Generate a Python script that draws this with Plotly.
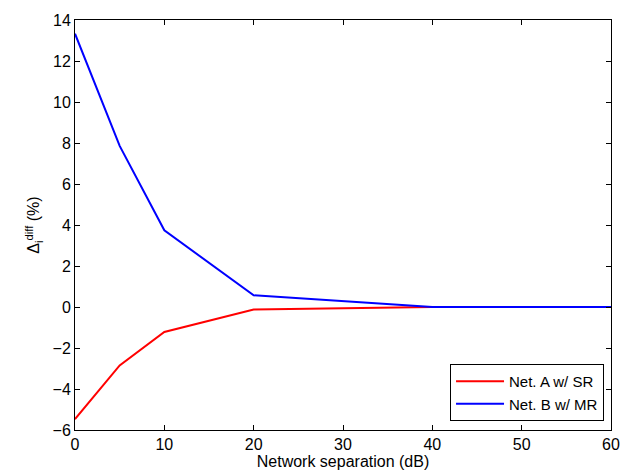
import plotly.graph_objects as go

separation_db = [0, 5, 10, 20, 40, 60]
net_a_sr = [-5.47, -2.85, -1.22, -0.12, 0.0, 0.0]
net_b_mr = [13.33, 7.86, 3.74, 0.57, 0.0, 0.0]
series_names = ["Net. A w/ SR", "Net. B w/ MR"]
x_ticks = [0, 10, 20, 30, 40, 50, 60]
y_ticks = [-6, -4, -2, 0, 2, 4, 6, 8, 10, 12, 14]

FONT = "Liberation Sans, Arial, Helvetica, sans-serif"

fig = go.Figure()
fig.add_trace(go.Scatter(x=separation_db, y=net_a_sr, mode="lines", name=series_names[0],
                         line=dict(color="#ff0000", width=2)))
fig.add_trace(go.Scatter(x=separation_db, y=net_b_mr, mode="lines", name=series_names[1],
                         line=dict(color="#0000ff", width=2)))

axis_common = dict(showgrid=False, zeroline=False, showline=True, linecolor="black", linewidth=1,
                   mirror="ticks", ticks="inside", ticklen=5, tickcolor="black",
                   tickfont=dict(family=FONT, size=16, color="black"))

fig.update_layout(
    width=632, height=476,
    margin=dict(l=75, r=19, t=15, b=44),
    paper_bgcolor="white", plot_bgcolor="white",
    font=dict(family=FONT, size=16, color="black"),
    xaxis=dict(range=[0, 60], tickvals=x_ticks,
               title=dict(text="Network separation (dB)", standoff=0, font=dict(size=16)),
               **axis_common),
    yaxis=dict(range=[-6, 14], tickvals=y_ticks,
               title=dict(text="Δ<sub>i</sub><sup>diff</sup> (%)", standoff=8, font=dict(size=16)),
               **axis_common),
    legend=dict(x=0.987, y=0.022, xanchor="right", yanchor="bottom",
                bordercolor="black", borderwidth=1, bgcolor="white",
                font=dict(size=15), tracegroupgap=0, itemwidth=48),
    showlegend=True,
)

fig.write_html("out.html", config={"displayModeBar": False},
               post_script="document.body.style.margin='0';")
